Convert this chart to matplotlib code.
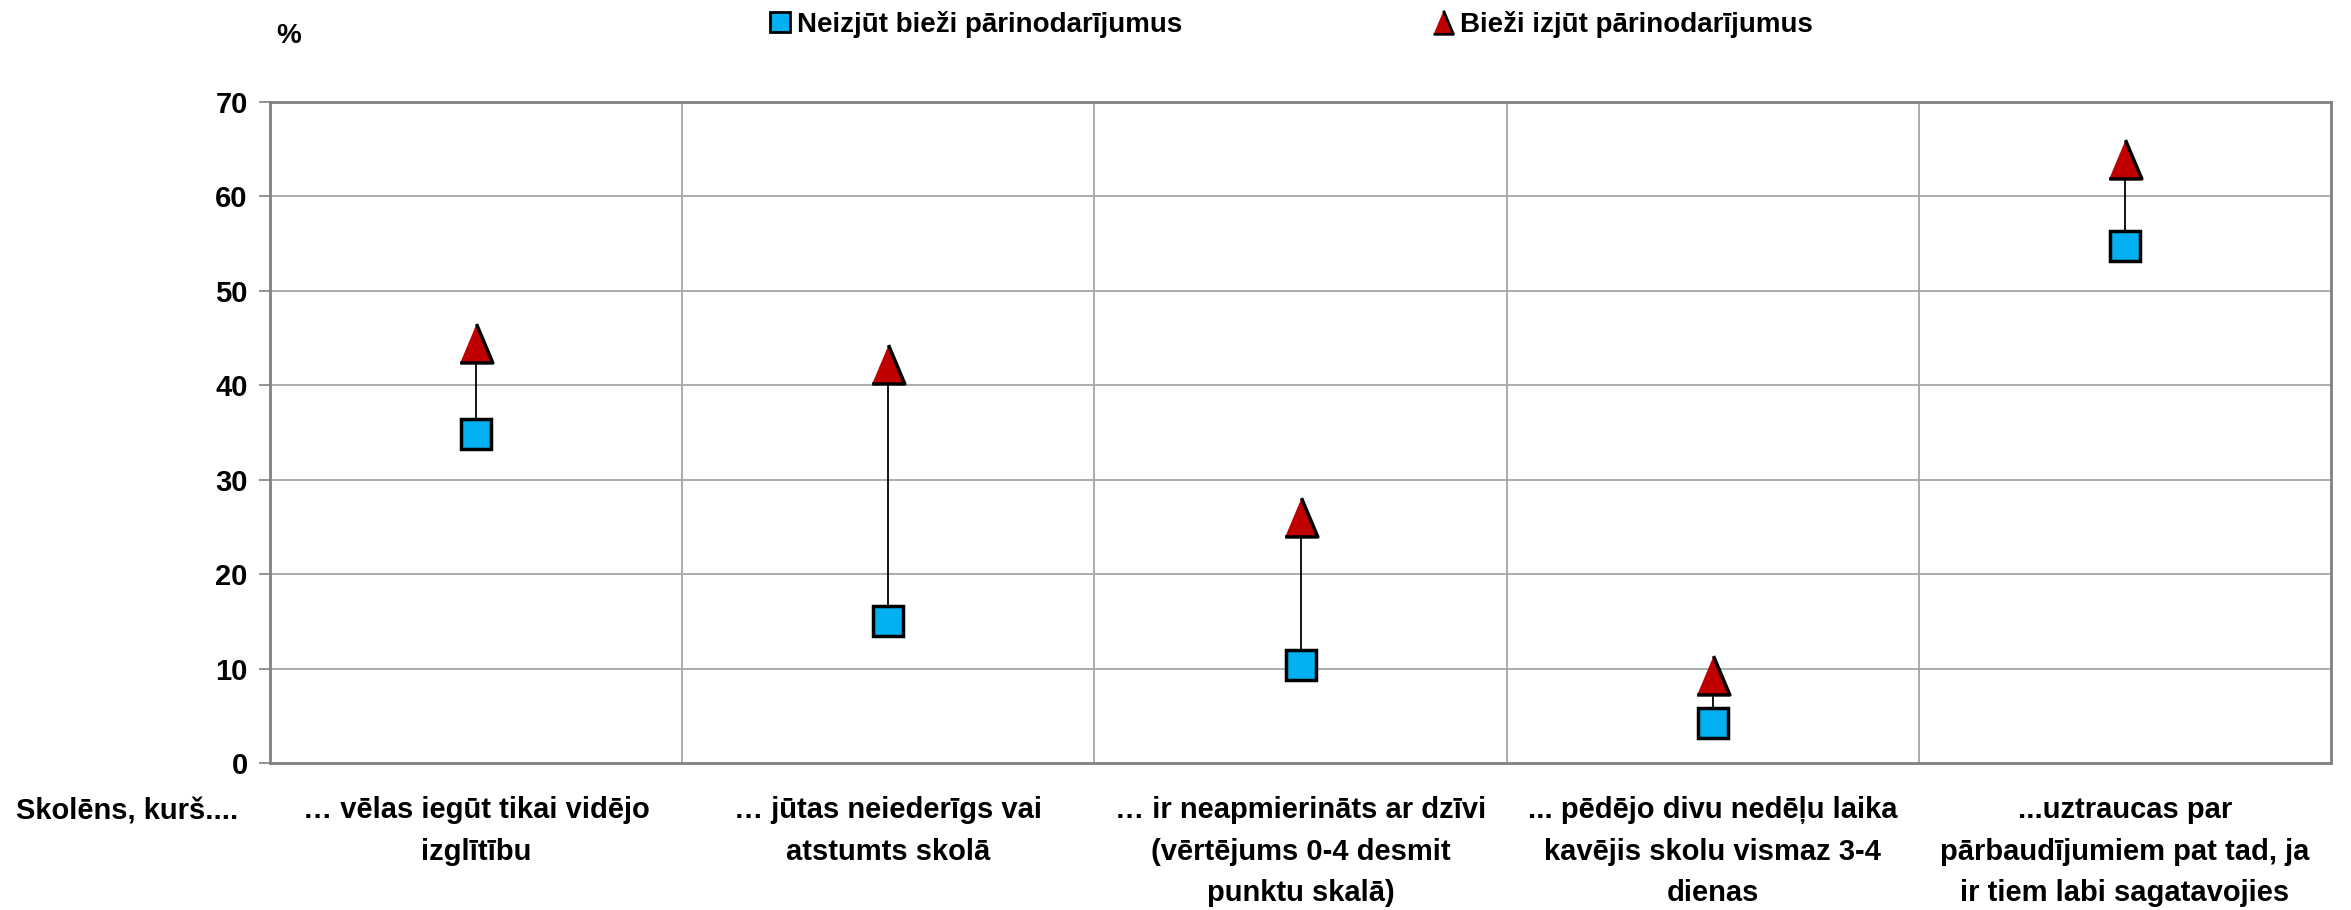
import matplotlib
matplotlib.use("Agg")
import matplotlib.pyplot as plt
from matplotlib.lines import Line2D

plt.rcParams['font.family'] = ['Liberation Sans Narrow', 'Liberation Sans', 'DejaVu Sans']
plt.rcParams['font.weight'] = 'bold'

categories = [
    "… vēlas iegūt tikai vidējo\nizglītību",
    "… jūtas neiederīgs vai\natstumts skolā",
    "… ir neapmierināts ar dzīvi\n(vērtējums 0-4 desmit\npunktu skalā)",
    "... pēdējo divu nedēļu laika\nkavējis skolu vismaz 3-4\ndienas",
    "...uztraucas par\npārbaudījumiem pat tad, ja\nir tiem labi sagatavojies",
]
not_bullied = [34.8, 15.0, 10.4, 4.2, 54.7]
bullied = [44.5, 42.3, 26.1, 9.3, 64.0]
series_names = ["Neizjūt bieži pārinodarījumus", "Bieži izjūt pārinodarījumus"]
yticks = [0, 10, 20, 30, 40, 50, 60, 70]

blue = "#00B0F0"
red = "#C00000"
tri = [(-0.42, -0.5), (0.42, -0.5), (0.0, 0.5)]

fig = plt.figure(figsize=(23.51, 9.10), dpi=100)
ax = fig.add_axes([270/2351, 1-763/910, (2331-270)/2351, (763-102)/910])

x = list(range(len(categories)))
ax.vlines(x, not_bullied, bullied, color="black", lw=1.3, zorder=3)
ax.plot(x, not_bullied, ls="none", marker="s", ms=21, mfc=blue, mec="black", mew=2.5, zorder=4)
ax.plot(x, bullied, ls="none", marker=tri, ms=28, mfc=red, mec="black", mew=2.5, zorder=4)

ax.set_xlim(-0.5, len(categories) - 0.5)
ax.set_ylim(0, 70)
ax.set_yticks(yticks)
ax.set_yticklabels([str(t) for t in yticks], fontsize=21, fontweight="bold")
ax.tick_params(axis="y", length=8, width=1.2, color="#808080", pad=8)
ax.set_xticks(x)
ax.set_xticklabels(categories, fontsize=21, fontweight="bold", linespacing=1.6)
ax.tick_params(axis="x", length=0, pad=24)

for yv in yticks[1:-1]:
    ax.axhline(yv, color="#A6A6A6", lw=1.3, zorder=1)
for xv in [0.5, 1.5, 2.5, 3.5]:
    ax.axvline(xv, color="#A6A6A6", lw=1.3, zorder=1)
for s in ax.spines.values():
    s.set_color("#808080")
    s.set_linewidth(2.0)

fig.text(127/2351, 1-812/910, "Skolēns, kurš....", fontsize=21, fontweight="bold",
         ha="center", va="center")
fig.text(289/2351, 1-36/910, "%", fontsize=20, fontweight="bold", ha="center", va="center")

handles = [
    Line2D([], [], ls="none", marker="s", ms=14, mfc=blue, mec="black", mew=2),
    Line2D([], [], ls="none", marker=tri, ms=17, mfc=red, mec="black", mew=2),
]
fig.legend(handles, series_names, loc="center", bbox_to_anchor=(1288/2351, 1-24/910),
           ncol=2, frameon=False, prop={"weight": "bold", "size": 20},
           handletextpad=0.0, columnspacing=8.8, handlelength=1.2)

fig.savefig("out.png", dpi=100)
